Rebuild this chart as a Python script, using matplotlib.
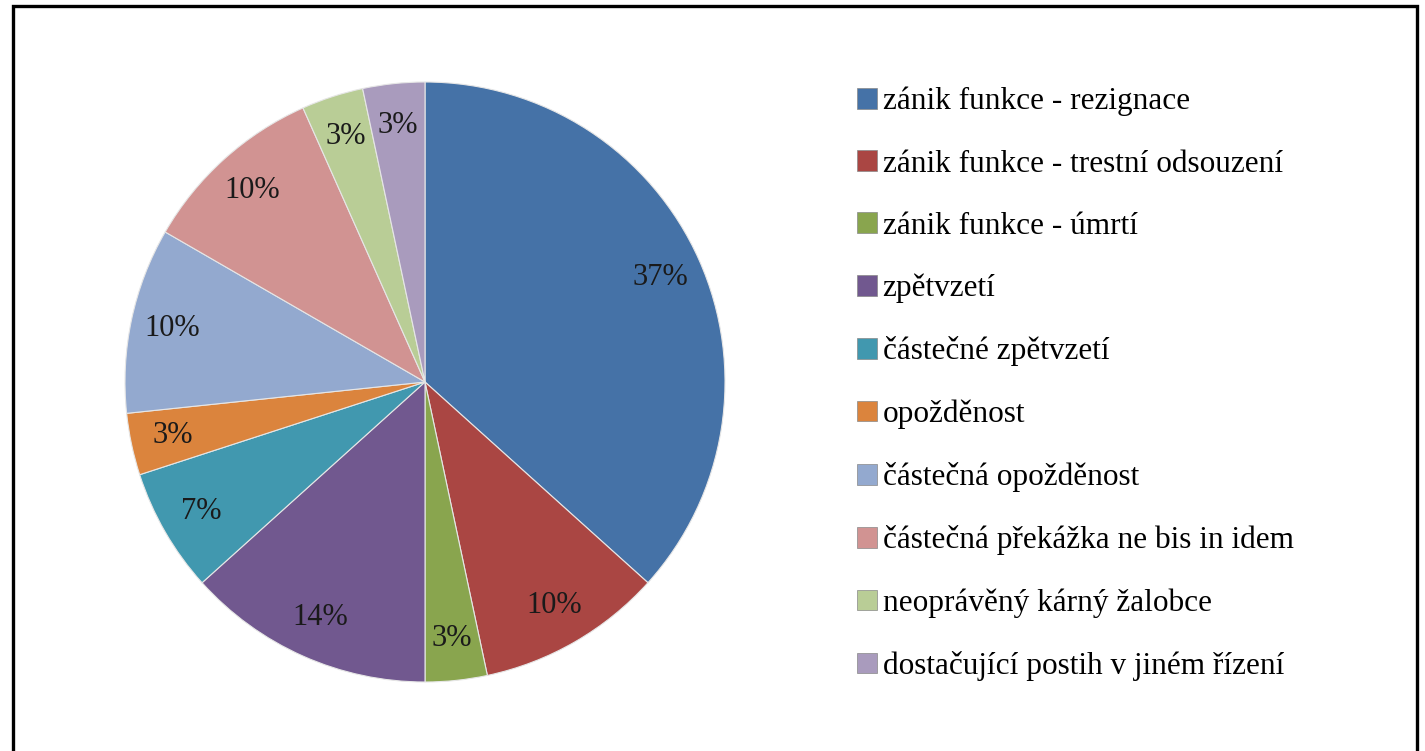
import matplotlib
matplotlib.use("Agg")
import matplotlib.pyplot as plt
from matplotlib.patches import Rectangle, Patch

categories = [
    "zánik funkce - rezignace",
    "zánik funkce - trestní odsouzení",
    "zánik funkce - úmrtí",
    "zpětvzetí",
    "částečné zpětvzetí",
    "opožděnost",
    "částečná opožděnost",
    "částečná překážka ne bis in idem",
    "neoprávěný kárný žalobce",
    "dostačující postih v jiném řízení",
]
counts = [11, 3, 1, 4, 2, 1, 3, 3, 1, 1]
pct_labels = ["37%", "10%", "3%", "14%", "7%", "3%", "10%", "10%", "3%", "3%"]
colors = ["#4572A7", "#AA4643", "#89A54E", "#71588F", "#4198AF",
          "#DB843D", "#93A9CF", "#D19392", "#B9CD96", "#A99BBD"]

plt.rcParams['font.family'] = ['Liberation Serif', 'DejaVu Serif']

fig = plt.figure(figsize=(14.25, 7.51), dpi=100)
ax = fig.add_axes([125/1425, 1 - 682/751, 600/1425, 600/751])
wedges, texts = ax.pie(counts, labels=pct_labels, colors=colors, startangle=90,
                       counterclock=False, labeldistance=0.86,
                       wedgeprops=dict(edgecolor="#e6e6e6", linewidth=0.8),
                       textprops=dict(fontsize=22, color="#1a1a1a", ha="center", va="center"))
for t in texts:
    t.set_ha("center")
    t.set_va("center")
ax.set_aspect("equal")
ax.set_xlim(-1, 1)
ax.set_ylim(-1, 1)

handles = [Patch(facecolor=c, edgecolor="#888888", linewidth=0.5) for c in colors]
fig.legend(handles, categories, loc="upper left", bbox_to_anchor=(857/1425, 1 - 87/751),
           frameon=False, fontsize=22.5, handlelength=0.64, handleheight=0.64,
           handletextpad=0.18, labelspacing=1.06, borderaxespad=0, borderpad=0)

fig.patches.append(Rectangle((13/1425, -0.05), (1417-13)/1425, 1.05 - 6/751,
                             transform=fig.transFigure, fill=False,
                             edgecolor="black", linewidth=2.4))

fig.savefig("out.png", dpi=100, facecolor="white")
